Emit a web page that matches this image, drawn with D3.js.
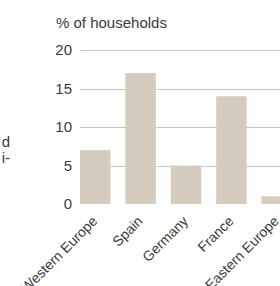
<!DOCTYPE html>
<html>
    <head>
        <script src="https://d3js.org/d3.v7.min.js"></script>
        <style>
            body { margin: 0; background: white; }
            text { font-family: 'Liberation Sans', Arial, sans-serif; fill: #3a3a3a; font-size: 15px; }
            .cat { font-size: 14px; }
        </style>
    </head>
    <body>
        <svg id='canvas' width=280 height=286></svg>
        <script>
            // data
            const categories = ['Western Europe', 'Spain', 'Germany', 'France', 'Eastern Europe']
            const values = [7, 17, 5, 14, 1]
            const yTicks = [0, 5, 10, 15, 20]
            const unitLabel = '% of households'
            // cut-off text from the neighbouring column
            const sideText = ['d', 'i-']

            const barColor = '#d6cbbf'
            const gridColor = '#c6c6c6'

            const svg = d3.select('#canvas')

            const xScale = d3.scaleBand()
                .domain(categories)
                .range([80, 292])
                .paddingInner(0.33)
                .paddingOuter(0)
            const yScale = d3.scaleLinear().domain([0, 20]).range([204, 50])

            // gridlines (no line at zero)
            svg.append('g').selectAll('line')
                .data(yTicks.filter(t => t > 0))
                .enter()
                .append('line')
                    .attr('x1', 80)
                    .attr('x2', 280)
                    .attr('y1', d => Math.round(yScale(d)) + 0.5)
                    .attr('y2', d => Math.round(yScale(d)) + 0.5)
                    .attr('stroke', gridColor)
                    .attr('stroke-width', 1)

            // tick labels
            svg.append('g').selectAll('text')
                .data(yTicks)
                .enter()
                .append('text')
                    .text(d => d)
                    .attr('x', 72)
                    .attr('y', d => yScale(d))
                    .attr('dy', '0.36em')
                    .attr('text-anchor', 'end')

            // bars
            svg.append('g').selectAll('rect')
                .data(categories)
                .enter()
                .append('rect')
                    .attr('x', d => xScale(d))
                    .attr('y', (d, i) => yScale(values[i]))
                    .attr('width', xScale.bandwidth())
                    .attr('height', (d, i) => yScale(0) - yScale(values[i]))
                    .attr('fill', barColor)

            // category labels, rotated
            svg.append('g').selectAll('text')
                .data(categories)
                .enter()
                .append('text')
                    .text(d => d)
                    .classed('cat', true)
                    .attr('text-anchor', 'end')
                    .attr('transform', d => {
                        const x = xScale(d) + xScale.bandwidth() / 2 + 3
                        return `translate(${x}, 222) rotate(-45)`
                    })

            svg.append('text').text(unitLabel)
                .attr('x', 56)
                .attr('y', 28)

            svg.append('g').selectAll('text')
                .data(sideText)
                .enter()
                .append('text')
                    .text(d => d)
                    .attr('x', 10)
                    .attr('y', (d, i) => 147 + i * 16)
                    .attr('text-anchor', 'end')
        </script>
    </body>
</html>
